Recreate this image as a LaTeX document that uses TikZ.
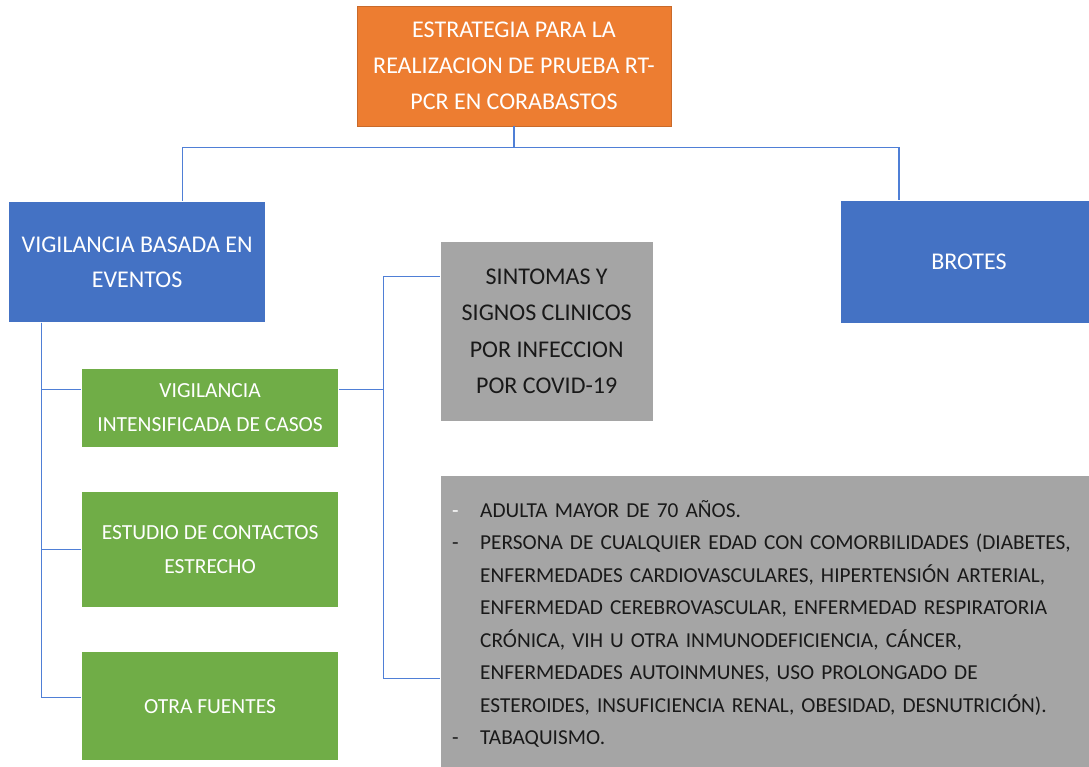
\documentclass[tikz,border=0pt]{standalone}
\usepackage{fontspec}
\setmainfont{Carlito}
\usepackage{xcolor}
\usepackage{tikz}
\usetikzlibrary{positioning,calc}

\definecolor{naranja}{HTML}{ED7D31}
\definecolor{azul}{HTML}{4472C4}
\definecolor{verde}{HTML}{70AD47}
\definecolor{gris}{HTML}{A5A5A5}
\definecolor{linea}{HTML}{4F7FD6}

\begin{document}
\begin{tikzpicture}[
        x=1pt, y=1pt,
        head/.style={draw=naranja!85!black, fill=naranja, text=white, minimum width=314pt, minimum height=120pt, align=center, inner sep=0pt, font=\fontsize{24}{36}\selectfont},
        branch/.style={draw=white, fill=azul, text=white, minimum width=257pt, minimum height=121pt, align=center, inner sep=0pt, font=\fontsize{24}{35}\selectfont},
        task/.style={draw=white, fill=verde, text=white, minimum width=257pt, align=center, inner sep=0pt, font=\fontsize{21.5}{34}\selectfont},
        detail/.style={draw=white, fill=gris, text=black!90, inner sep=0pt},
        link/.style={draw=linea, line width=1.2pt},
        node distance=44pt
    ]

    \useasboundingbox (0,0) rectangle (1089,-767);

    % estrategia
    \node[head] (top) at (514,-66) {ESTRATEGIA PARA LA\\REALIZACION DE PRUEBA RT-\\PCR EN CORABASTOS};

    % segundo nivel
    \node[branch, below left=75pt and 91pt of top] (eventos) {VIGILANCIA BASADA EN\\EVENTOS};
    \node[branch, minimum height=123pt, below right=74pt and 169pt of top] (brotes) {BROTES};

    % vigilancia basada en eventos
    \node[task, minimum height=79pt, below right=45pt and 73pt of eventos.south west] (intensificada) {VIGILANCIA\\INTENSIFICADA DE CASOS};
    \node[task, minimum height=116pt, below=of intensificada] (contactos) {ESTUDIO DE CONTACTOS\\ESTRECHO};
    \node[task, minimum height=109pt, below=of contactos] (fuentes) {OTRA FUENTES};

    % criterios
    \node[detail, anchor=north west, minimum width=213pt, minimum height=180pt, align=center, font=\fontsize{24}{36.5}\selectfont] (sintomas) at (440,-241) {SINTOMAS Y\\SIGNOS CLINICOS\\POR INFECCION\\POR COVID-19};
    \node[detail, anchor=north west, minimum width=655pt, minimum height=297pt, text width=631pt, align=left, font=\fontsize{21.3}{32.5}\selectfont] (factores) at (440,-475) {%
        \makebox[28pt][l]{\textcolor{white}{-}}ADULTA MAYOR DE 70 AÑOS.\\
        \makebox[28pt][l]{-}PERSONA DE CUALQUIER EDAD CON COMORBILIDADES (DIABETES,\\
        \hspace*{28pt}ENFERMEDADES CARDIOVASCULARES, HIPERTENSIÓN ARTERIAL,\\
        \hspace*{28pt}ENFERMEDAD CEREBROVASCULAR, ENFERMEDAD RESPIRATORIA\\
        \hspace*{28pt}CRÓNICA, VIH U OTRA INMUNODEFICIENCIA, CÁNCER,\\
        \hspace*{28pt}ENFERMEDADES AUTOINMUNES, USO PROLONGADO DE\\
        \hspace*{28pt}ESTEROIDES, INSUFICIENCIA RENAL, OBESIDAD, DESNUTRICIÓN).\\
        \makebox[28pt][l]{-}TABAQUISMO.};

    % conexiones
    \coordinate (hub) at ([yshift=-21pt]top.south);
    \draw[link] (top.south) -- (hub);
    \draw[link] (hub) -| ([xshift=45.5pt]eventos.north);
    \draw[link] (hub) -| ([xshift=-70pt]brotes.north);

    \coordinate (spine) at ([xshift=33pt]eventos.south west);
    \draw[link] (spine) |- ([yshift=17.5pt]intensificada.west);
    \draw[link] (spine) |- (contactos.west);
    \draw[link] (spine) |- ([yshift=9pt]fuentes.west);

    \coordinate (fork) at ([xshift=45pt,yshift=17.5pt]intensificada.east);
    \draw[link] ([yshift=17.5pt]intensificada.east) -- (fork);
    \draw[link] (fork) |- ([yshift=55pt]sintomas.west);
    \draw[link] (fork) |- ([yshift=-54.5pt]factores.west);

\end{tikzpicture}
\end{document}
